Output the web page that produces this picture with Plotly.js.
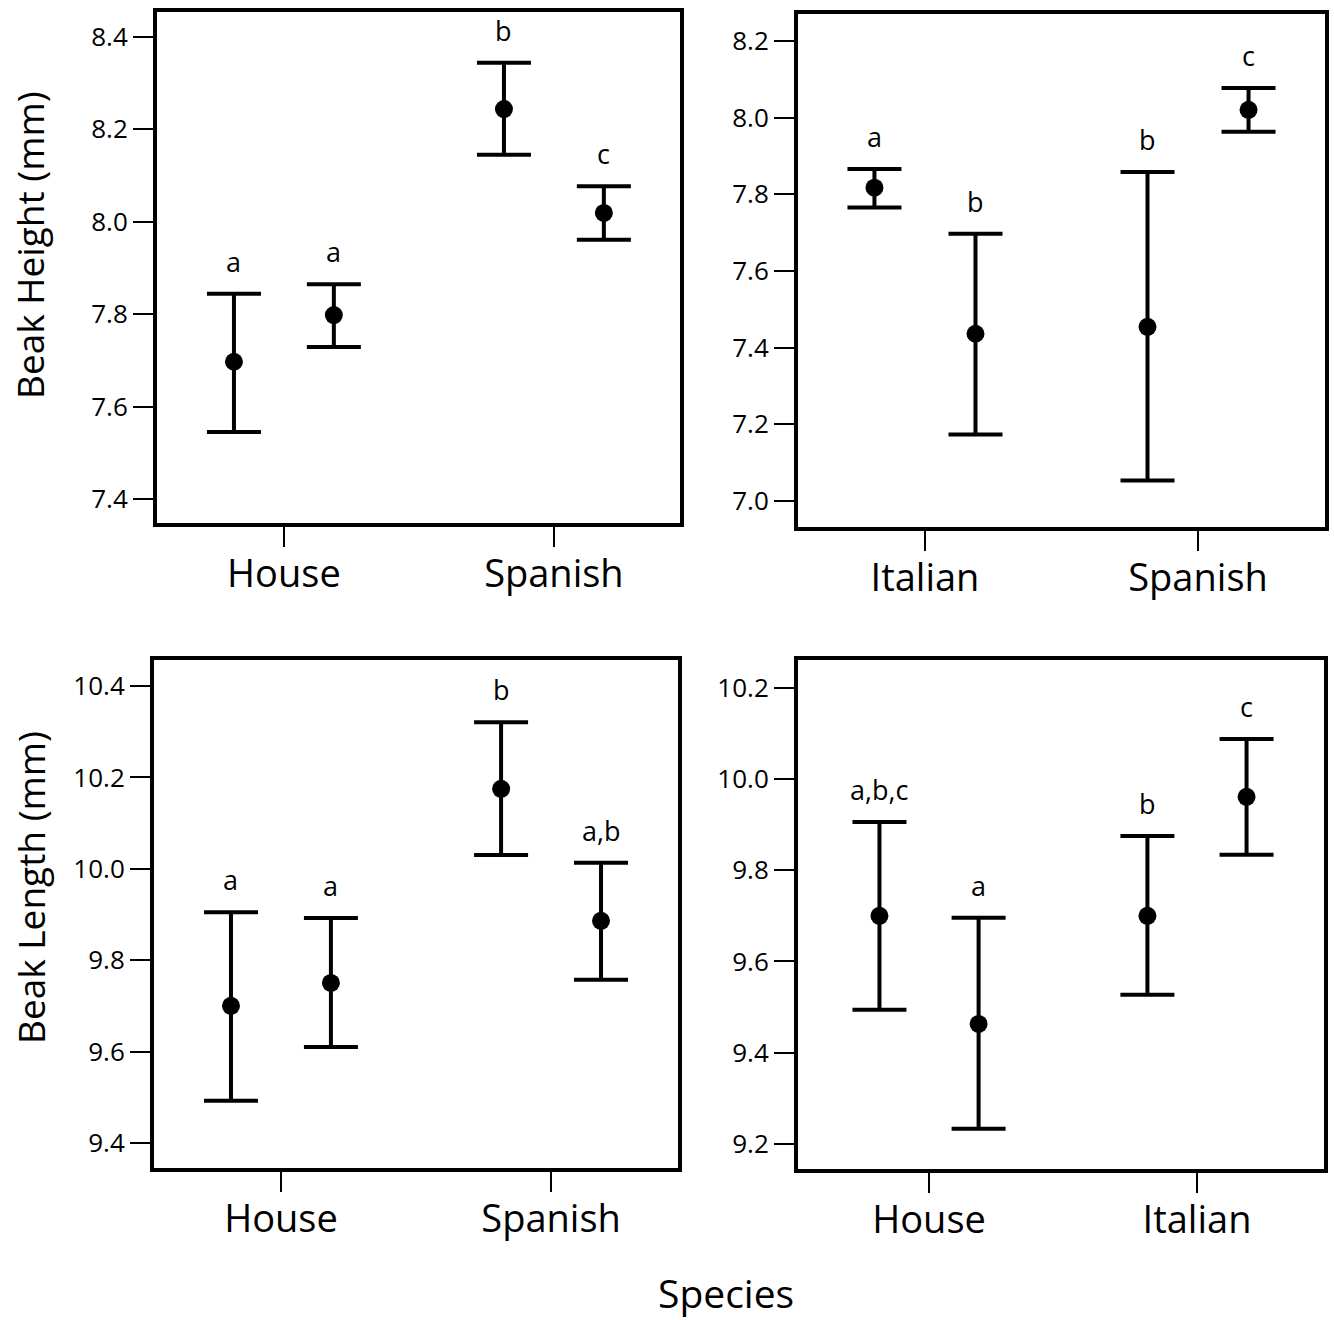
<!DOCTYPE html>
<html>
<head>
<meta charset="utf-8">
<script src="https://cdn.plot.ly/plotly-3.0.1.min.js"></script>
<style>
  html, body { margin: 0; padding: 0; background: #fff; }
  #chart { width: 1334px; height: 1320px; }
</style>
</head>
<body>
<div id="chart"></div>
<script>
// ---- Data ----
// Panel A: Beak height, House vs Spanish
const catsA = ['House', 'Spanish'];
const meanA = [7.697, 7.798, 8.244, 8.019];
const upperA = [7.844, 7.865, 8.344, 8.077];
const lowerA = [7.545, 7.729, 8.145, 7.961];
const lettersA = ['a', 'a', 'b', 'c'];

// Panel B: Beak height, Italian vs Spanish
const catsB = ['Italian', 'Spanish'];
const meanB = [7.817, 7.436, 7.454, 8.020];
const upperB = [7.866, 7.697, 7.858, 8.077];
const lowerB = [7.765, 7.173, 7.053, 7.963];
const lettersB = ['a', 'b', 'b', 'c'];

// Panel C: Beak length, House vs Spanish
const catsC = ['House', 'Spanish'];
const meanC = [9.700, 9.750, 10.175, 9.886];
const upperC = [9.905, 9.892, 10.321, 10.013];
const lowerC = [9.492, 9.610, 10.030, 9.757];
const lettersC = ['a', 'a', 'b', 'a,b'];

// Panel D: Beak length, House vs Italian
const catsD = ['House', 'Italian'];
const meanD = [9.700, 9.463, 9.700, 9.961];
const upperD = [9.906, 9.696, 9.875, 10.088];
const lowerD = [9.494, 9.233, 9.527, 9.834];
const lettersD = ['a,b,c', 'a', 'b', 'c'];

const yTitleTop = 'Beak Height (mm)';
const yTitleBottom = 'Beak Length (mm)';
const xTitle = 'Species';

// ---- Styling / layout constants ----
const FONT = '"Open Sans", "Noto Sans", sans-serif';
const W = 1334, H = 1320;
const OFF = 0.185; // within-category offset of the two points

function xPos(n) {
  const xs = [];
  for (let i = 0; i < n; i++) xs.push(Math.floor(i / 2) + (i % 2 ? OFF : -OFF));
  return xs;
}

function makeTrace(mean, upper, lower, ax) {
  return {
    type: 'scatter', mode: 'markers',
    x: xPos(mean.length), y: mean,
    xaxis: 'x' + ax, yaxis: 'y' + ax,
    marker: { color: '#000', size: 18 },
    error_y: {
      type: 'data', symmetric: false,
      array: upper.map((u, i) => u - mean[i]),
      arrayminus: lower.map((l, i) => mean[i] - l),
      color: '#000', thickness: 4, width: 27
    },
    showlegend: false, hoverinfo: 'skip'
  };
}

function letterAnns(letters, upper, ax) {
  const xs = xPos(letters.length);
  return letters.map((t, i) => ({
    text: t, x: xs[i], y: upper[i], xref: 'x' + ax, yref: 'y' + ax,
    showarrow: false, yanchor: 'bottom', yshift: 12,
    font: { family: FONT, size: 27, color: '#000' }
  }));
}

const panels = [
  { ax: '', cats: catsA, mean: meanA, up: upperA, lo: lowerA, let: lettersA,
    px: [157, 680], py: [12, 523], xr: [-0.470, 1.467], yr: [7.348, 8.454] },
  { ax: '2', cats: catsB, mean: meanB, up: upperB, lo: lowerB, let: lettersB,
    px: [798, 1325], py: [14, 527], xr: [-0.465, 1.465], yr: [6.932, 8.270] },
  { ax: '3', cats: catsC, mean: meanC, up: upperC, lo: lowerC, let: lettersC,
    px: [154, 678], py: [660, 1168], xr: [-0.470, 1.470], yr: [9.345, 10.457] },
  { ax: '4', cats: catsD, mean: meanD, up: upperD, lo: lowerD, let: lettersD,
    px: [798, 1324], py: [660, 1169], xr: [-0.489, 1.474], yr: [9.145, 10.261] }
];

const data = [];
let annotations = [];
const layout = {
  width: W, height: H,
  margin: { l: 0, r: 0, t: 0, b: 0 },
  paper_bgcolor: '#fff', plot_bgcolor: '#fff',
  font: { family: FONT, color: '#000' },
  showlegend: false
};

panels.forEach(p => {
  data.push(makeTrace(p.mean, p.up, p.lo, p.ax));
  annotations = annotations.concat(letterAnns(p.let, p.up, p.ax));
  const axName = p.ax;
  layout['xaxis' + axName] = {
    domain: [p.px[0] / W, p.px[1] / W],
    anchor: 'y' + axName,
    range: p.xr,
    tickmode: 'array', tickvals: [0, 1], ticktext: p.cats,
    ticks: 'outside', ticklen: 20, tickwidth: 2, tickcolor: '#000',
    ticklabelstandoff: -6,
    showline: true, linewidth: 4, linecolor: '#000', mirror: true,
    showgrid: false, zeroline: false,
    tickfont: { family: FONT, size: 38, color: '#000' },
    fixedrange: true
  };
  layout['yaxis' + axName] = {
    domain: [1 - p.py[1] / H, 1 - p.py[0] / H],
    anchor: 'x' + axName,
    range: p.yr,
    dtick: 0.2, tick0: 0, tickformat: '.1f',
    ticks: 'outside', ticklen: 20, tickwidth: 2, tickcolor: '#000',
    showline: true, linewidth: 4, linecolor: '#000', mirror: true,
    showgrid: false, zeroline: false,
    tickfont: { family: FONT, size: 26, color: '#000' },
    fixedrange: true
  };
});

annotations.push(
  { text: yTitleTop, xref: 'paper', yref: 'paper', x: 30 / W, y: 1 - 245 / H,
    textangle: -90, showarrow: false, xanchor: 'center', yanchor: 'middle',
    font: { family: FONT, size: 37, color: '#000' } },
  { text: yTitleBottom, xref: 'paper', yref: 'paper', x: 30 / W, y: 1 - 888 / H,
    textangle: -90, showarrow: false, xanchor: 'center', yanchor: 'middle',
    font: { family: FONT, size: 37, color: '#000' } },
  { text: xTitle, xref: 'paper', yref: 'paper', x: 726 / W, y: 0,
    showarrow: false, xanchor: 'center', yanchor: 'bottom', borderpad: 0,
    font: { family: FONT, size: 39, color: '#000' } }
);
layout.annotations = annotations;

Plotly.newPlot('chart', data, layout, { staticPlot: true, displayModeBar: false });
</script>
</body>
</html>
